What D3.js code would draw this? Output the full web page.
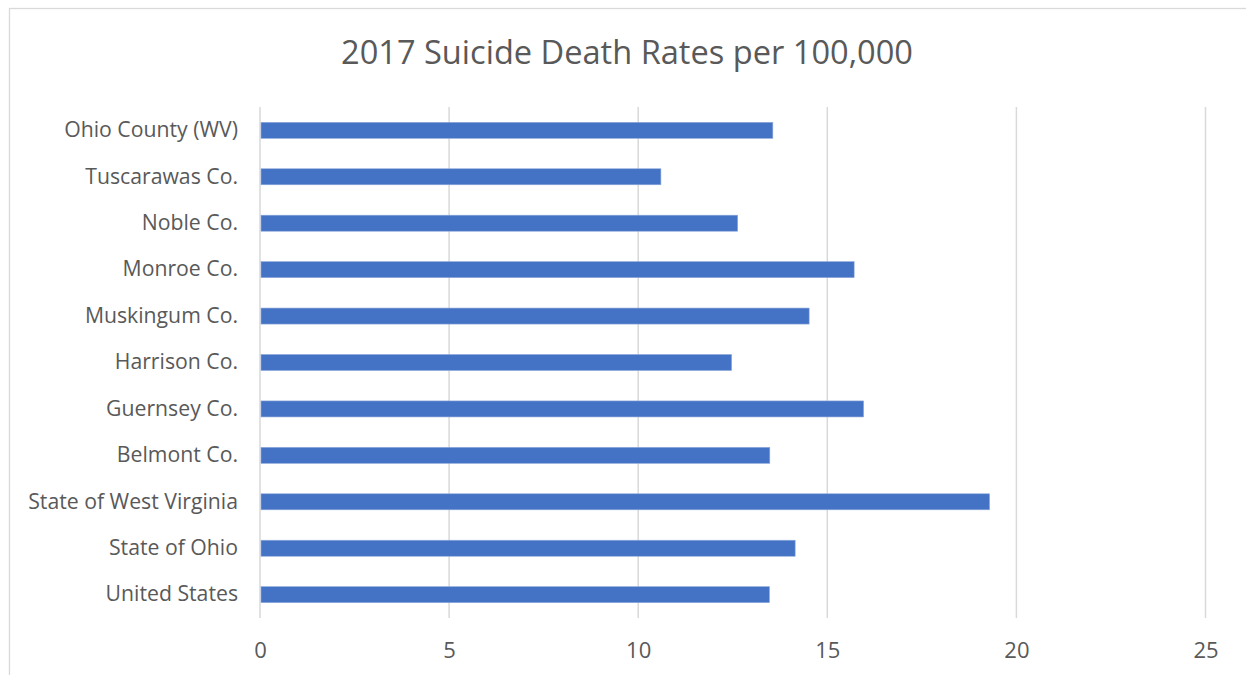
<!DOCTYPE html>
<html>
<head>
<meta charset="utf-8">
<script src="https://cdn.jsdelivr.net/npm/d3@7"></script>
<style>
  html, body { margin: 0; padding: 0; background: #fff; }
  svg { display: block; }
  text { font-family: "Open Sans", "Noto Sans", sans-serif; fill: #595959; }
</style>
</head>
<body>
<svg id="chart" width="1246" height="675"></svg>
<script>
// Rates per 100,000 population, 2017 (top to bottom as shown)
const categories = [
  "Ohio County (WV)", "Tuscarawas Co.", "Noble Co.", "Monroe Co.",
  "Muskingum Co. ", "Harrison Co.", "Guernsey Co.", "Belmont Co.",
  "State of West Virginia", "State of Ohio", "United States"
];
const rates = [13.56, 10.6, 12.63, 15.71, 14.52, 12.47, 15.96, 13.48, 19.29, 14.15, 13.47];
const xTicks = [0, 5, 10, 15, 20, 25];
const title = "2017 Suicide Death Rates per 100,000";

const svg = d3.select("#chart");
const W = 1246, H = 675;
const plot = { left: 260, right: 1205.5, top: 107, bottom: 618 };

// chart-area frame (only top and left edges fall inside the view)
svg.append("rect")
  .attr("x", 9.5).attr("y", 8.5)
  .attr("width", W + 20).attr("height", H + 20)
  .attr("fill", "#fff").attr("stroke", "#d9d9d9").attr("stroke-width", 1.3);

const x = d3.scaleLinear().domain([0, 25]).range([plot.left, plot.right]);
const y = d3.scaleBand().domain(categories).range([plot.top, plot.bottom]).paddingInner(0.655).paddingOuter(0.33);

// vertical gridlines
svg.append("g").selectAll("line").data(xTicks).join("line")
  .attr("x1", d => x(d)).attr("x2", d => x(d))
  .attr("y1", plot.top).attr("y2", plot.bottom)
  .attr("stroke", "#d9d9d9").attr("stroke-width", 1.5);

// bars
svg.append("g").selectAll("rect").data(rates).join("rect")
  .attr("x", x(0) + 1)
  .attr("y", (d, i) => y(categories[i]))
  .attr("width", d => x(d) - x(0) - 1)
  .attr("height", y.bandwidth())
  .attr("fill", "#4472c4")
  .attr("stroke", "#8eaadb").attr("stroke-width", 0.6);

// x axis tick labels
const xAxis = d3.axisBottom(x).tickValues(xTicks).tickSize(0).tickPadding(0);
const gx = svg.append("g").attr("transform", `translate(0,${plot.bottom + 24})`).call(xAxis);
gx.select(".domain").remove();
gx.attr("font-size", 22).attr("font-family", null);
gx.selectAll("text").attr("font-size", 22).attr("fill", "#595959")
  .style("font-size", "22px")
  .style("font-family", '"Open Sans", sans-serif');

// category labels
const yAxis = d3.axisLeft(y).tickSize(0).tickPadding(22);
const gy = svg.append("g").attr("transform", `translate(${plot.left},0)`).call(yAxis);
gy.select(".domain").remove();
gy.attr("font-family", null);
gy.selectAll("text").attr("font-size", 18).attr("fill", "#595959")
  .style("font-family", '"Open Sans", sans-serif');

// fit category labels so the longest spans the same width
const longest = gy.selectAll("text").nodes()
  .reduce((m, n) => Math.max(m, n.getComputedTextLength()), 0);
const labelSize = 18 * 210 / longest;
gy.attr("font-size", labelSize);
gy.selectAll("text").attr("font-size", labelSize);

// title
const t = svg.append("text")
  .attr("x", 627).attr("y", 64)
  .attr("text-anchor", "middle")
  .attr("font-size", 30)
  .text(title);
const tw = t.node().getComputedTextLength();
t.attr("font-size", 30 * 572 / tw);
</script>
</body>
</html>
